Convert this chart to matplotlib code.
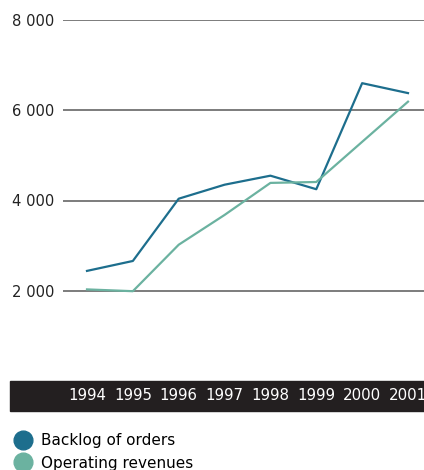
import matplotlib
matplotlib.use("Agg")
import matplotlib.pyplot as plt
from matplotlib.lines import Line2D
from matplotlib.patches import Rectangle

plt.rcParams["font.family"] = ["DejaVu Sans"]

years = [1994, 1995, 1996, 1997, 1998, 1999, 2000, 2001]
backlog = [2440, 2660, 4040, 4350, 4550, 4250, 6600, 6380]
revenues = [2030, 1990, 3020, 3680, 4390, 4410, 5300, 6190]
yticks = [2000, 4000, 6000, 8000]
ytick_labels = ["2 000", "4 000", "6 000", "8 000"]
series_names = ["Backlog of orders", "Operating revenues"]

c_backlog = "#1d6e8d"
c_rev = "#6bb2a0"

W, H = 424, 470
fig = plt.figure(figsize=(W / 100, H / 100), dpi=100)
ax = fig.add_axes([63 / W, (H - 381) / H, 1 - 63 / W, (381 - 20) / H])

# dark band behind the year labels
fig.add_artist(Rectangle((10 / W, (H - 411) / H), (W - 10) / W, 30 / H,
                         transform=fig.transFigure, color="#231f20", zorder=0))

ax.plot(years, backlog, color=c_backlog, lw=1.6, zorder=3)
ax.plot(years, revenues, color=c_rev, lw=1.6, zorder=3)

ax.set_ylim(0, 8000)
ax.set_xlim(1994 - 24 / 45.86, 2001 + 16 / 45.86)
ax.set_yticks(yticks)
ax.set_yticklabels(ytick_labels)
ax.set_xticks(years)
ax.set_xticklabels([str(y) for y in years])
ax.yaxis.grid(True, color="#666666", lw=1.2)
ax.set_axisbelow(True)
for s in ax.spines.values():
    s.set_visible(False)
ax.tick_params(axis="y", length=0, pad=6.5, labelsize=10.6, labelcolor="#222222")
ax.tick_params(axis="x", length=0, pad=5, labelsize=10.8, labelcolor="white")
ax.patch.set_alpha(0)

handles = [Line2D([], [], ls="none", marker="o", ms=13.5, color=c_backlog),
           Line2D([], [], ls="none", marker="o", ms=13.5, color=c_rev)]
fig.legend(handles, series_names, loc="upper left",
           bbox_to_anchor=(15 / W, (H - 433) / H), frameon=False,
           fontsize=11, handlelength=1.0, handletextpad=0.7,
           labelspacing=0.5, borderpad=0.0, borderaxespad=0)

fig.savefig("out.png", dpi=100)
